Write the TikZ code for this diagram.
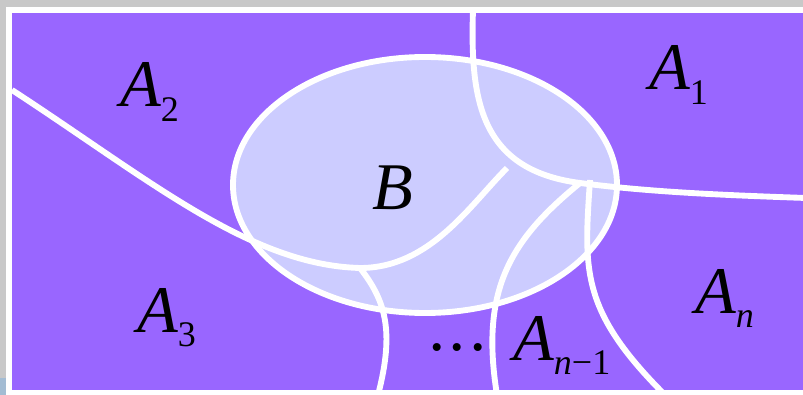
\documentclass[tikz,border=0pt]{standalone}
\usepackage{fontspec}
\setmainfont{Liberation Serif}
\definecolor{regionfill}{HTML}{9966FF}
\definecolor{setfill}{HTML}{CCCCFF}
\definecolor{pagegray}{HTML}{C8C8C8}
\definecolor{cornerblue}{HTML}{A3BCD3}
\newcommand{\regsub}[1]{\raisebox{-11pt}{\fontsize{27}{28}\selectfont\upshape #1}}

\begin{document}
\begin{tikzpicture}[x=0.75pt, y=-0.75pt,
  boundary/.style={white, line width=4.4pt},
  lbl/.style={inner sep=0pt, anchor=base west, font=\fontsize{50}{50}\selectfont\itshape}]
  \useasboundingbox (0,0) rectangle (803,395);
  % ---------- frame ----------
  \fill[pagegray] (0,0) rectangle (803,395);
  \fill[cornerblue] (0,378) rectangle (6,395);
  \fill[white] (6,7) rectangle (803,395);
  \fill[regionfill] (12,13) rectangle (803,390);
  % ---------- set B ----------
  \fill[setfill] (425,185) ellipse [x radius=192, y radius=128];
  % ---------- region boundaries ----------
  \begin{scope}
    \clip (12,13) rectangle (803,390);
    \draw[boundary] (12,90) .. controls (150,180) and (250,265) .. (360,268)
                            .. controls (430,268) and (470,205) .. (507,168);
    \draw[boundary] (360,268) .. controls (385,300) and (395,330) .. (378,395);
    \draw[boundary] (473,10) .. controls (470,100) and (480,170) .. (580,183)
                            .. controls (650,192) and (720,195) .. (806,198);
    \draw[boundary] (580,183) .. controls (510,240) and (480,290) .. (497,395);
    \draw[boundary] (590,180) .. controls (584,270) and (580,310) .. (665,395);
  \end{scope}
  \draw[boundary] (425,185) ellipse [x radius=192, y radius=128];
  % ---------- labels ----------
  \node[lbl] (a1) at (649,90) {A\regsub{1}};
  \node[lbl] (a2) at (120,107) {A\regsub{2}};
  \node[lbl] (a3) at (137,332) {A\regsub{3}};
  \node[lbl] (b) at (372,210) {B};
  \node[lbl] (an) at (695,313) {A\regsub{\itshape n}};
  \node[lbl] (anm) at (513,360) {A\regsub{\textit{n}−1}};
  \node[lbl] (dots) at (430,350) {.\kern3pt.\kern3pt.};
\end{tikzpicture}
\end{document}
